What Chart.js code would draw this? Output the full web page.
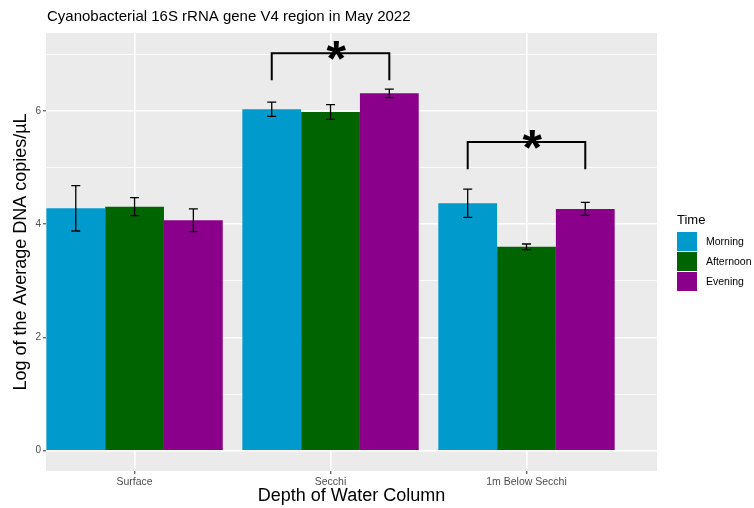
<!DOCTYPE html>
<html>
<head>
<meta charset="utf-8">
<script src="https://cdn.jsdelivr.net/npm/chart.js@4/dist/chart.umd.min.js"></script>
<style>
  html, body { margin: 0; padding: 0; background: #fff; }
  #wrap { width: 754px; height: 508px; }
</style>
</head>
<body>
<div id="wrap"><canvas id="myChart" width="754" height="508"></canvas></div>
<script>
const categories = ['Surface', 'Secchi', '1m Below Secchi'];
const times = ['Morning', 'Afternoon', 'Evening'];
const colors = ['#009ACD', '#006400', '#8B008B'];

// log10 mean copies/uL and error per depth
const morning = [4.28, 6.03, 4.37];
const afternoon = [4.31, 5.98, 3.60];
const evening = [4.07, 6.31, 4.27];
const morningErr = [0.40, 0.125, 0.25];
const afternoonErr = [0.16, 0.13, 0.05];
const eveningErr = [0.20, 0.075, 0.115];

// significance brackets (Morning vs Evening)
const sigGroups = [1, 2];
const sigTop = [7.02, 5.45];
const sigLeg = [6.54, 4.97];

const yTicks = [0, 1, 2, 3, 4, 5, 6, 7];

const means = [morning, afternoon, evening];
const errs = [morningErr, afternoonErr, eveningErr];

const FONT = "'Liberation Sans', Arial, Helvetica, sans-serif";

const panelBg = {
    id: 'panelBg',
    beforeDraw(chart) {
        const { ctx, chartArea: a } = chart;
        ctx.save();
        ctx.fillStyle = '#EBEBEB';
        ctx.fillRect(a.left, a.top, a.right - a.left, a.bottom - a.top);
        ctx.restore();
    }
};

const errorBars = {
    id: 'errorBars',
    afterDatasetsDraw(chart) {
        const { ctx, scales: { y } } = chart;
        ctx.save();
        ctx.strokeStyle = '#000';
        ctx.lineWidth = 1.3;
        chart.data.datasets.forEach((ds, d) => {
            chart.getDatasetMeta(d).data.forEach((bar, i) => {
                const hi = y.getPixelForValue(means[d][i] + errs[d][i]);
                const lo = y.getPixelForValue(means[d][i] - errs[d][i]);
                ctx.beginPath();
                ctx.moveTo(bar.x, hi); ctx.lineTo(bar.x, lo);
                ctx.moveTo(bar.x - 4.5, hi); ctx.lineTo(bar.x + 4.5, hi);
                ctx.moveTo(bar.x - 4.5, lo); ctx.lineTo(bar.x + 4.5, lo);
                ctx.stroke();
            });
        });
        ctx.restore();
    }
};

const brackets = {
    id: 'brackets',
    afterDatasetsDraw(chart) {
        const { ctx, scales: { y } } = chart;
        const first = chart.getDatasetMeta(0).data;
        const last = chart.getDatasetMeta(2).data;
        ctx.save();
        ctx.strokeStyle = '#000';
        ctx.lineWidth = 2;
        ctx.fillStyle = '#000';
        ctx.font = 'bold 50px ' + FONT;
        sigGroups.forEach((g, k) => {
            const x1 = first[g].x, x2 = last[g].x;
            const top = y.getPixelForValue(sigTop[k]);
            const leg = y.getPixelForValue(sigLeg[k]);
            ctx.beginPath();
            ctx.moveTo(x1, leg); ctx.lineTo(x1, top); ctx.lineTo(x2, top); ctx.lineTo(x2, leg);
            ctx.stroke();
            const m = ctx.measureText('*');
            const cx = (x1 + x2) / 2 + 6;
            const cy = top - 3;
            ctx.textAlign = 'left';
            ctx.textBaseline = 'alphabetic';
            const tx = cx - (m.actualBoundingBoxRight - m.actualBoundingBoxLeft) / 2;
            const ty = cy + (m.actualBoundingBoxAscent - m.actualBoundingBoxDescent) / 2;
            ctx.fillText('*', tx, ty);
        });
        ctx.restore();
    }
};

const titleAndLegend = {
    id: 'titleAndLegend',
    afterDraw(chart) {
        const { ctx, chartArea: a } = chart;
        ctx.save();
        ctx.fillStyle = '#000';
        ctx.textAlign = 'left';
        ctx.textBaseline = 'alphabetic';
        ctx.font = '15px ' + FONT;
        ctx.fillText('Cyanobacterial 16S rRNA gene V4 region in May 2022', a.left + 1, 21);

        ctx.font = '13px ' + FONT;
        ctx.fillText('Time', 677, 224);
        ctx.font = '10.5px ' + FONT;
        ctx.textBaseline = 'middle';
        times.forEach((t, i) => {
            const ky = 232 + i * 20;
            ctx.fillStyle = colors[i];
            ctx.fillRect(677, ky, 20, 19);
            ctx.fillStyle = '#000';
            ctx.fillText(t, 706, ky + 10);
        });
        ctx.restore();
    }
};

new Chart(document.getElementById('myChart'), {
    type: 'bar',
    data: {
        datasets: times.map((t, d) => ({
            label: t,
            data: means[d].map((v, i) => ({ x: i + 1, y: v })),
            backgroundColor: colors[d],
            borderWidth: 0,
            categoryPercentage: 0.9,
            barPercentage: 1
        }))
    },
    options: {
        responsive: false,
        animation: false,
        layout: { padding: { top: 33, right: 97, left: 0, bottom: 0 } },
        plugins: {
            legend: { display: false },
            tooltip: { enabled: false }
        },
        scales: {
            x: {
                type: 'linear',
                min: 0.548,
                max: 3.666,
                offset: false,
                afterBuildTicks: s => { s.ticks = categories.map((c, i) => ({ value: i + 1 })); },
                afterFit: s => { s.height = 37; },
                ticks: {
                    callback: v => categories[v - 1],
                    font: { family: FONT, size: 10.5 },
                    color: '#4D4D4D',
                    padding: 1.5,
                    maxRotation: 0
                },
                grid: {
                    offset: false,
                    color: '#FFFFFF',
                    lineWidth: 1.6,
                    tickColor: '#333333',
                    tickLength: 3,
                    tickWidth: 1
                },
                border: { display: false },
                title: {
                    display: true,
                    text: 'Depth of Water Column',
                    font: { family: FONT, size: 18 },
                    color: '#000',
                    padding: { top: 0, bottom: 1 }
                }
            },
            y: {
                min: -0.358,
                max: 7.376,
                afterBuildTicks: s => { s.ticks = yTicks.map(v => ({ value: v })); },
                afterFit: s => { s.width = 46; },
                ticks: {
                    callback: v => (v % 2 === 0 ? String(v) : ''),
                    font: { family: FONT, size: 10 },
                    color: '#4D4D4D',
                    padding: 2
                },
                grid: {
                    color: '#FFFFFF',
                    lineWidth: c => (c.tick && c.tick.value % 2 === 0 ? 1.6 : 0.8),
                    tickColor: c => (c.tick && c.tick.value % 2 === 0 ? '#333333' : 'rgba(0,0,0,0)'),
                    tickLength: 3,
                    tickWidth: 1
                },
                border: { display: false },
                title: {
                    display: true,
                    text: 'Log of the Average DNA copies/µL',
                    font: { family: FONT, size: 18 },
                    color: '#000',
                    padding: { top: 10, bottom: 0 }
                }
            }
        }
    },
    plugins: [panelBg, errorBars, brackets, titleAndLegend]
});
</script>
</body>
</html>
